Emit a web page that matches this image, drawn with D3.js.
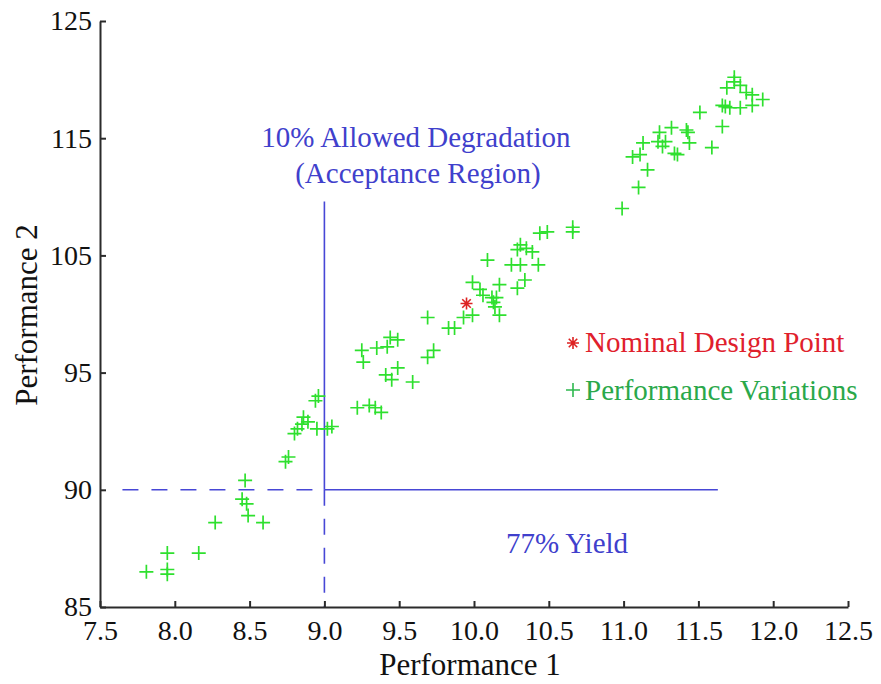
<!DOCTYPE html>
<html>
<head>
<meta charset="utf-8">
<script src="https://cdn.jsdelivr.net/npm/d3@7"></script>
<style>
  body { margin: 0; background: #fff; }
  svg text { font-family: "Liberation Serif", "Times New Roman", serif; }
</style>
</head>
<body>
<svg id="chart"></svg>
<script>
// axis ticks (the y labels are equally spaced in the picture)
var xTicks = [7.5, 8.0, 8.5, 9.0, 9.5, 10.0, 10.5, 11.0, 11.5, 12.0, 12.5];
var yTicks = [85, 90, 95, 105, 115, 125];

// nominal design point
var nominalP1 = 9.95, nominalP2 = 100.9;

// performance variations
var variationP1 = [8.96, 8.94, 8.86, 8.89, 8.82, 8.80, 8.85, 8.95, 9.02, 9.05,
  8.76, 8.74, 8.47, 8.45, 8.48, 8.49, 8.59, 8.27, 7.95, 8.16,
  7.81, 7.95, 7.95, 9.22, 9.30, 9.34, 9.38, 9.25, 9.26, 9.35,
  9.42, 9.44, 9.49, 9.41, 9.45, 9.49, 9.59, 9.69, 9.73, 9.69,
  9.83, 9.87, 9.93, 9.99, 10.17, 10.13, 9.99, 10.04, 10.06, 10.12,
  10.15, 10.14, 10.17, 10.09, 10.29, 10.34, 10.25, 10.31, 10.43, 10.29,
  10.35, 10.39, 10.31, 10.44, 10.49, 10.66, 10.66, 10.99, 11.10, 11.16,
  11.06, 11.11, 11.13, 11.24, 11.23, 11.28, 11.26, 11.32, 11.34, 11.36,
  11.42, 11.43, 11.44, 11.59, 11.51, 11.66, 11.66, 11.68, 11.71, 11.78,
  11.86, 11.93, 11.69, 11.74, 11.74, 11.78, 11.82, 11.86];
var variationP2 = [94.0, 93.8, 93.1, 92.9, 92.6, 92.4, 92.8, 92.6, 92.6, 92.7,
  91.4, 91.2, 90.4, 89.6, 89.4, 88.9, 88.6, 88.6, 87.3, 87.3,
  86.5, 86.6, 86.4, 93.5, 93.6, 93.5, 93.3, 96.9, 95.9, 97.1,
  97.2, 98.0, 97.8, 94.9, 94.7, 95.4, 94.6, 96.3, 96.9, 99.7,
  98.8, 98.8, 99.7, 99.9, 99.9, 101.0, 102.7, 102.1, 101.6, 101.4,
  101.4, 100.6, 102.5, 104.6, 102.2, 102.9, 104.2, 104.2, 104.2, 105.5,
  105.6, 105.3, 105.9, 106.9, 107.0, 107.0, 107.4, 109.0, 110.8, 112.3,
  113.4, 113.6, 114.6, 115.5, 114.7, 114.7, 114.3, 115.9, 113.7, 113.6,
  115.7, 115.5, 114.6, 114.2, 117.2, 116.0, 117.8, 117.7, 117.6, 117.6,
  117.8, 118.3, 119.3, 119.8, 120.2, 119.5, 118.9, 118.7];

// acceptance region limits
var limitP1 = 9.0, limitP2 = 90;
var regionEndP1 = 11.63, regionTopP2 = 109.6, dashStartP1 = 7.65;

var svgWidth = 881, svgHeight = 684;
var plotLeft = 100, plotRight = 848, plotTop = 21, plotBottom = 607;

var svg = d3.select("#chart")
  .attr("width", svgWidth)
  .attr("height", svgHeight);

var x = d3.scaleLinear().domain([7.5, 12.5]).range([plotLeft, plotRight]);
var yStep = (plotBottom - plotTop) / (yTicks.length - 1);
var y = d3.scaleLinear()
  .domain(yTicks)
  .range(yTicks.map(function (d, i) { return plotBottom - i * yStep; }));

var blue = "#4747d6";

// region lines
function line(x1, y1, x2, y2, dashed) {
  svg.append("line")
    .attr("x1", x(x1)).attr("y1", y(y1))
    .attr("x2", x(x2)).attr("y2", y(y2))
    .attr("stroke", blue)
    .attr("stroke-width", 1.6)
    .attr("stroke-dasharray", dashed ? "16,13" : null);
}
line(limitP1, regionTopP2, limitP1, limitP2, false);
line(limitP1, limitP2, limitP1, 85, true);
line(limitP1, limitP2, regionEndP1, limitP2, false);
line(dashStartP1, limitP2, limitP1, limitP2, true);

// axes
var xAxis = svg.append("g")
  .attr("transform", "translate(0," + plotBottom + ")")
  .call(d3.axisBottom(x).tickValues(xTicks).tickFormat(d3.format(".1f"))
    .tickSizeInner(-6).tickSizeOuter(0).tickPadding(13));

var yAxis = svg.append("g")
  .attr("transform", "translate(" + plotLeft + ",0)")
  .call(d3.axisLeft(y).tickValues(yTicks).tickFormat(d3.format("d"))
    .tickSizeInner(-6).tickSizeOuter(0).tickPadding(8));

[xAxis, yAxis].forEach(function (a) {
  a.selectAll("path, line").attr("stroke", "#2b2b2b").attr("stroke-width", 2);
  a.selectAll("text").attr("fill", "#111").style("font-size", "28px")
    .style("font-family", "Liberation Serif");
});

svg.append("text")
  .attr("x", 470).attr("y", 675)
  .attr("text-anchor", "middle")
  .style("font-size", "31px").attr("fill", "#111")
  .text("Performance 1");

svg.append("text")
  .attr("transform", "translate(37,315) rotate(-90)")
  .attr("text-anchor", "middle")
  .style("font-size", "31px").attr("fill", "#111")
  .text("Performance 2");

// markers
var pts = variationP1.map(function (d, i) { return [d, variationP2[i]]; });
var r = 7;

svg.append("g").selectAll("path")
  .data(pts)
  .enter().append("path")
  .attr("d", function (d) {
    var px = x(d[0]), py = y(d[1]);
    return "M" + (px - r) + "," + py + "H" + (px + r) + "M" + px + "," + (py - r) + "V" + (py + r);
  })
  .attr("stroke", "#2ee02e")
  .attr("stroke-width", 1.7)
  .attr("fill", "none");

function star(px, py, s) {
  var d = "";
  for (var k = 0; k < 4; k++) {
    var a = k * Math.PI / 4;
    d += "M" + (px - s * Math.cos(a)) + "," + (py - s * Math.sin(a)) +
      "L" + (px + s * Math.cos(a)) + "," + (py + s * Math.sin(a));
  }
  return d;
}

svg.append("path")
  .attr("d", star(x(nominalP1), y(nominalP2), 6))
  .attr("stroke", "#dd2222").attr("stroke-width", 1.6).attr("fill", "none");

// annotations
svg.append("text")
  .attr("x", 416).attr("y", 147).attr("text-anchor", "middle")
  .style("font-size", "29px").attr("fill", "#4040cc")
  .text("10% Allowed Degradation");
svg.append("text")
  .attr("x", 418).attr("y", 183).attr("text-anchor", "middle")
  .style("font-size", "29px").attr("fill", "#4040cc")
  .text("(Acceptance Region)");
svg.append("text")
  .attr("x", 567).attr("y", 553).attr("text-anchor", "middle")
  .style("font-size", "29px").attr("fill", "#4040cc")
  .text("77% Yield");

// legend
svg.append("path")
  .attr("d", star(573, 343, 6))
  .attr("stroke", "#dd2222").attr("stroke-width", 1.6).attr("fill", "none");
svg.append("text")
  .attr("x", 585).attr("y", 352)
  .style("font-size", "29px").attr("fill", "#e0202c")
  .text("Nominal Design Point");
svg.append("path")
  .attr("d", "M566,390H580M573,383V397")
  .attr("stroke", "#2fb84f").attr("stroke-width", 1.6).attr("fill", "none");
svg.append("text")
  .attr("x", 585).attr("y", 400)
  .style("font-size", "29px").attr("fill", "#2aa84a")
  .text("Performance Variations");
</script>
</body>
</html>
